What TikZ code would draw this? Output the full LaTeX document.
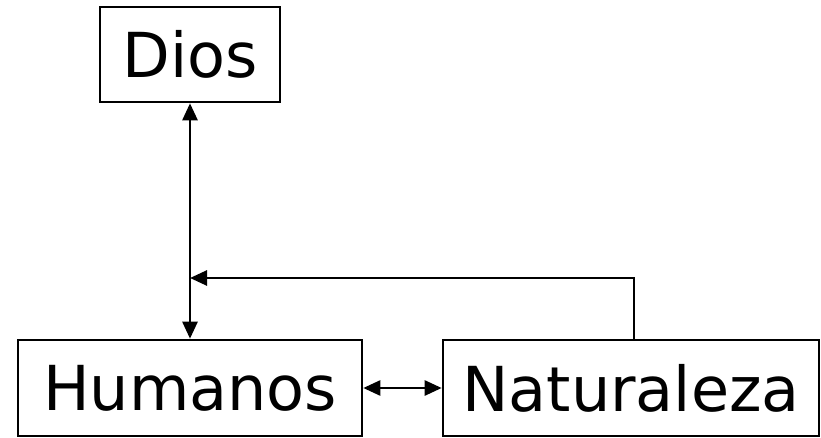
\documentclass[tikz,border=0pt]{standalone}
\usepackage{fontspec}
\setmainfont{DejaVu Sans}
\usetikzlibrary{arrows.meta}

\begin{document}
\begin{tikzpicture}[x=1pt,y=-1pt,
		caja/.style={draw,line width=2.6pt,inner sep=0pt,font=\fontsize{62}{62}\selectfont},
		flecha/.style={line width=2.6pt,-{Triangle[length=17pt,width=15pt]}},
		dflecha/.style={line width=2.6pt,{Triangle[length=17pt,width=15pt]}-{Triangle[length=17pt,width=15pt]}}]
				
				\useasboundingbox (0,0) rectangle (821,438);
				
				% Cajas
				\node[caja,minimum width=180pt,minimum height=95pt] (dios) at (190,54.5) {Dios};
				\node[caja,minimum width=344pt,minimum height=96pt] (humanos) at (190,388) {Humanos};
				\node[caja,minimum width=376pt,minimum height=96pt] (naturaleza) at (631,388) {Naturaleza};
				
				\coordinate (union) at (190,278);
				
				% Flechas
				\draw[dflecha] (dios) -- (humanos);
				\draw[dflecha] (humanos) -- (naturaleza);
				\draw[flecha] (naturaleza.north -| 634,0) |- (union);
				
			\end{tikzpicture}
\end{document}
